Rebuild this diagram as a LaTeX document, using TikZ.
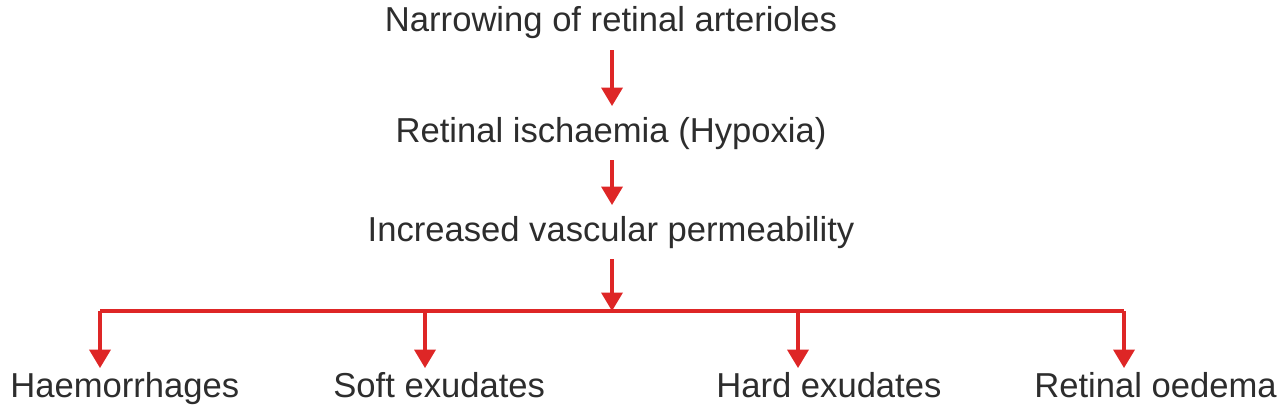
\documentclass[tikz,border=0pt]{standalone}
\usepackage{fontspec}
\setmainfont{Liberation Sans}
\usepackage{tikz}
\usetikzlibrary{arrows.meta,positioning,calc}
\definecolor{flowred}{RGB}{222,38,38}
\definecolor{textgray}{RGB}{45,45,45}

\begin{document}
\begin{tikzpicture}[
  x=0.02cm, y=-0.02cm,
  lbl/.style={font=\fontsize{19.7}{23}\selectfont, text=textgray, inner xsep=0pt, inner ysep=6pt},
  outlbl/.style={lbl, inner ysep=2pt},
  wire/.style={-{Triangle[width=12pt,length=10.5pt]}, line width=1.9pt, draw=flowred},
  rail/.style={line width=1.9pt, draw=flowred}]

  \useasboundingbox (0,0) rectangle (1283,412);

  % ---------- chain ----------
  \node[lbl,anchor=base] (narrow) at (611,32)  {Narrowing of retinal arterioles};
  \node[lbl,anchor=base] (isch)   at (611,142) {Retinal ischaemia (Hypoxia)};
  \node[lbl,anchor=base] (perm)   at (611,241) {Increased vascular permeability};

  \draw[wire] (narrow.south -| 612,0) -- (isch.north -| 612,0);
  \draw[wire] (isch.south -| 612,0) -- (perm.north -| 612,0);

  % ---------- outcomes ----------
  \node[outlbl,anchor=base west] (haem) at (10,397)   {Haemorrhages};
  \node[outlbl,anchor=base west] (soft) at (333,397)  {Soft exudates};
  \node[outlbl,anchor=base west] (hard) at (716,397)  {Hard exudates};
  \node[outlbl,anchor=base west] (oed)  at (1034,397) {Retinal oedema};

  % split bar
  \coordinate (split) at (612,311);
  \coordinate (d1) at (100,311);
  \coordinate (d2) at (425,311);
  \coordinate (d3) at (798,311);
  \coordinate (d4) at (1124,311);
  \draw[wire] (perm.south -| split) -- (split);
  \draw[rail] (d1) -- (d4);

  \foreach \d/\t in {d1/haem, d2/soft, d3/hard, d4/oed}
    \draw[wire] (\d) -- (\d |- \t.north);

\end{tikzpicture}
\end{document}
